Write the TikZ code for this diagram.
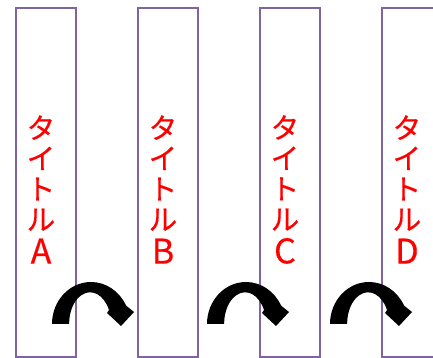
\documentclass[tikz,border=0pt]{standalone}
\usepackage{fontspec}
\setmainfont{Noto Sans CJK JP}
\newfontfamily\titlefont{Noto Sans CJK JP}[FakeBold=0.5]
\usetikzlibrary{calc}
\definecolor{colline}{RGB}{128,100,162}

\begin{document}
\begin{tikzpicture}[x=1pt,y=1pt,
col/.style={rectangle, draw=colline, line width=2.2pt, minimum width=60pt, minimum height=349pt, inner sep=0pt},
title/.style={text=red, align=center, inner sep=0pt, font=\titlefont\fontsize{28.5}{30.5}\selectfont},
turn/.style={fill=black}]
\useasboundingbox (0,0) rectangle (433,358);

\draw (46,175.5) node[col] (ColA) {};
\draw (168,175.5) node[col] (ColB) {};
\draw (290,175.5) node[col] (ColC) {};
\draw (412,175.5) node[col] (ColD) {};

\draw (41,168.5) node[title] (TitA) {タ\\イ\\ト\\ル\\[3pt]{\fontsize{34}{34}\selectfont A}};
\draw (163,168.5) node[title] (TitB) {タ\\イ\\ト\\ル\\[3pt]{\fontsize{34}{34}\selectfont B}};
\draw (285,168.5) node[title] (TitC) {タ\\イ\\ト\\ル\\[3pt]{\fontsize{34}{34}\selectfont C}};
\draw (407,168.5) node[title] (TitD) {タ\\イ\\ト\\ル\\[3pt]{\fontsize{34}{34}\selectfont D}};

% turn arrows
\foreach \dx in {0,155,278}
  \fill[turn,shift={(\dx,0)}] (52,34) arc[start angle=180, end angle=26, x radius=39pt, y radius=42pt]
    -- (134,46) -- (121,32) -- (107,45) -- (109,48)
    arc[start angle=26, end angle=180, x radius=21pt, y radius=31.5pt] -- cycle;

\end{tikzpicture}
\end{document}
